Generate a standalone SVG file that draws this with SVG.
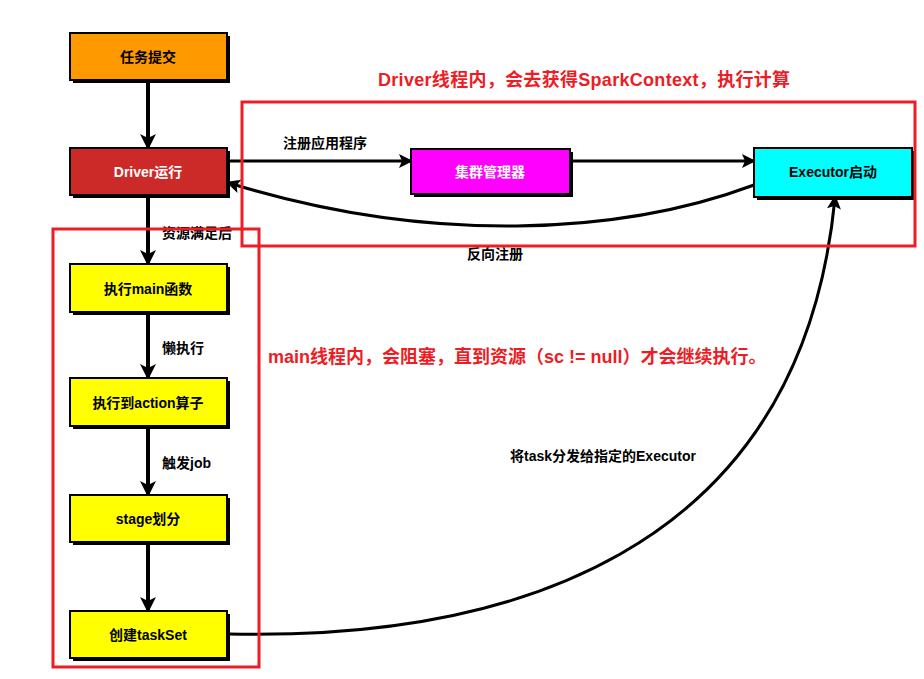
<svg xmlns="http://www.w3.org/2000/svg" width="924" height="679" viewBox="0 0 924 679">
<defs>
<marker id="ah" markerWidth="16" markerHeight="16" refX="13" refY="8" orient="auto" markerUnits="userSpaceOnUse" viewBox="0 0 16 16">
<path d="M0,0 L16,8 L0,16 L4,8 Z" fill="#000"/>
</marker>
<marker id="ah2" markerWidth="14" markerHeight="14" refX="11" refY="7" orient="auto" markerUnits="userSpaceOnUse" viewBox="0 0 14 14">
<path d="M0,0 L14,7 L0,14 L3,7 Z" fill="#000"/>
</marker>
<style>
.sh{fill:#000}
.bx{stroke:#000;stroke-width:2}
.t{font-family:"Liberation Sans","Noto Sans CJK SC",sans-serif;font-size:14px;font-weight:bold;text-anchor:middle;dominant-baseline:central}
.lb{font-family:"Liberation Sans","Noto Sans CJK SC",sans-serif;font-size:14px;font-weight:bold;fill:#000}
.rt{font-family:"Liberation Sans","Noto Sans CJK SC",sans-serif;font-size:18px;font-weight:bold;fill:#EE1C24}
.cn{fill:none;stroke:#000;stroke-width:4}
.cn2{fill:none;stroke:#000;stroke-width:3}
.rb{fill:none;stroke:#EE1C24;stroke-width:3}
</style>
</defs>
<rect width="924" height="679" fill="#fff"/>

<g id="connectors">
<line class="cn" x1="148" y1="81" x2="148" y2="147" marker-end="url(#ah)"/>
<line class="cn" x1="148" y1="196" x2="148" y2="263" marker-end="url(#ah)"/>
<line class="cn" x1="148" y1="313" x2="148" y2="377" marker-end="url(#ah)"/>
<line class="cn" x1="148" y1="427" x2="148" y2="494" marker-end="url(#ah)"/>
<line class="cn" x1="148" y1="543" x2="148" y2="610" marker-end="url(#ah)"/>
<line class="cn2" x1="228" y1="161" x2="410" y2="161" marker-end="url(#ah2)"/>
<line class="cn2" x1="571" y1="161" x2="753" y2="161" marker-end="url(#ah2)"/>
<path class="cn2" d="M754,185 C620,235 430,245 229,183" marker-end="url(#ah2)"/>
<path class="cn2" d="M228,634 C500,640 800,560 835,198" marker-end="url(#ah2)"/>
</g>

<g id="n1"><rect class="sh" x="73" y="36" width="157" height="47"/><rect class="bx" x="70" y="33" width="157" height="47" fill="#FF9900"/><text class="t" x="148" y="57" fill="#000">任务提交</text></g>
<g id="n2"><rect class="sh" x="73" y="151" width="157" height="47"/><rect class="bx" x="70" y="148" width="157" height="47" fill="#CC2929"/><text class="t" x="148" y="172" fill="#fff">Driver运行</text></g>
<g id="n3"><rect class="sh" x="73" y="267" width="157" height="48"/><rect class="bx" x="70" y="264" width="157" height="48" fill="#FFFF00"/><text class="t" x="148" y="289" fill="#000">执行main函数</text></g>
<g id="n4"><rect class="sh" x="73" y="381" width="157" height="48"/><rect class="bx" x="70" y="378" width="157" height="48" fill="#FFFF00"/><text class="t" x="148" y="403" fill="#000">执行到action算子</text></g>
<g id="n5"><rect class="sh" x="73" y="498" width="157" height="47"/><rect class="bx" x="70" y="495" width="157" height="47" fill="#FFFF00"/><text class="t" x="148" y="519" fill="#000">stage划分</text></g>
<g id="n6"><rect class="sh" x="73" y="614" width="157" height="47"/><rect class="bx" x="70" y="611" width="157" height="47" fill="#FFFF00"/><text class="t" x="148" y="635" fill="#000">创建taskSet</text></g>
<g id="n7"><rect class="sh" x="414" y="152" width="159" height="45"/><rect class="bx" x="411" y="149" width="159" height="45" fill="#FF00FF"/><text class="t" x="490" y="172" fill="#fff">集群管理器</text></g>
<g id="n8"><rect class="sh" x="757" y="151" width="158" height="49"/><rect class="bx" x="754" y="148" width="158" height="49" fill="#00FFFF"/><text class="t" x="833" y="172" fill="#000">Executor启动</text></g>

<g id="labels">
<text class="lb" x="283" y="148">注册应用程序</text>
<text class="lb" x="467" y="259">反向注册</text>
<text class="lb" x="162" y="238">资源满足后</text>
<text class="lb" x="162" y="353">懒执行</text>
<text class="lb" x="162" y="468">触发job</text>
<text class="lb" x="510" y="461">将task分发给指定的Executor</text>
<text class="rt" x="378" y="86" letter-spacing="0.3">Driver线程内，会去获得SparkContext，执行计算</text>
<text class="rt" x="268" y="363">main线程内，会阻塞，直到资源（sc != null）才会继续执行。</text>
</g>

<g id="regions">
<rect class="rb" x="242" y="102" width="673" height="144"/>
<rect class="rb" x="53" y="229" width="206" height="438"/>
</g>
</svg>
